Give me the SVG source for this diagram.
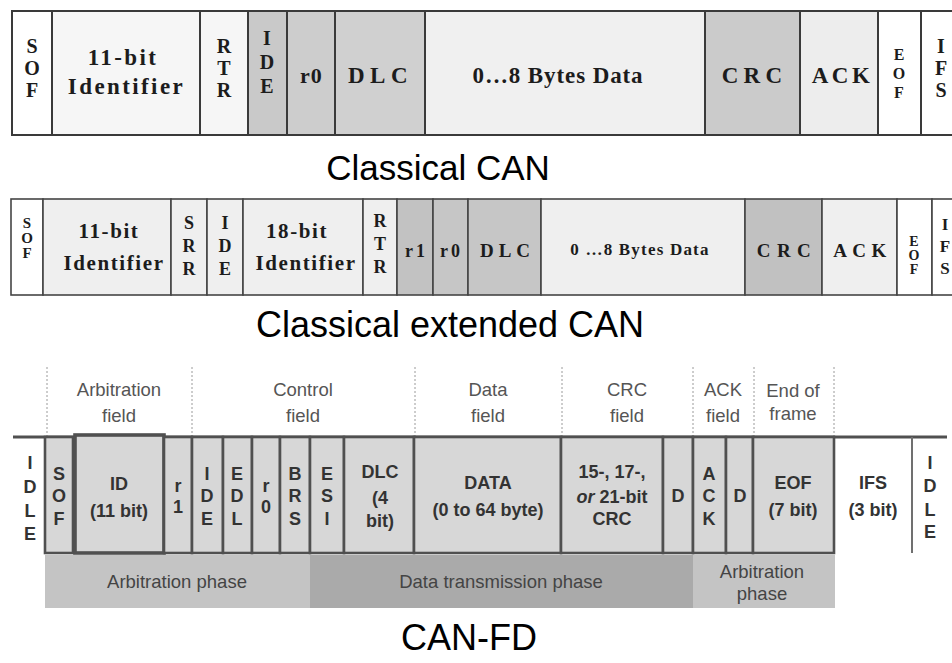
<svg xmlns="http://www.w3.org/2000/svg" width="952" height="663" viewBox="0 0 952 663">
<style>
.b1{stroke:#3a3a3a;stroke-width:2}
.b2{stroke:#454545;stroke-width:1.6}
.fd{fill:#d7d7d7;stroke:#505050;stroke-width:2.6}
.sf{font-family:"Liberation Serif","Times New Roman",serif;font-weight:bold;fill:#1c1c1c;text-anchor:middle}
.title{font-family:"Liberation Sans",Arial,sans-serif;font-size:35px;fill:#000;text-anchor:middle}
.cb{font-family:"Liberation Sans",Arial,sans-serif;font-weight:bold;font-size:18px;fill:#333;text-anchor:middle}
.hd{font-family:"Liberation Sans",Arial,sans-serif;font-size:18.5px;fill:#555;text-anchor:middle}
.ph{font-family:"Liberation Sans",Arial,sans-serif;font-size:18.5px;fill:#444;text-anchor:middle}
.dash{stroke:#9a9a9a;stroke-width:1;stroke-dasharray:2 2}
</style>

<!-- Classical CAN -->
<g id="classical">
<g id="c-sof"><rect x="12" y="11" width="40" height="124" fill="#ffffff" class="b1"/>
<text class="sf" font-size="20"><tspan x="32" y="53">S</tspan><tspan x="32" y="75">O</tspan><tspan x="32" y="97">F</tspan></text></g>
<g id="c-id"><rect x="52" y="11" width="148" height="124" fill="#f6f6f6" class="b1"/>
<text class="sf" font-size="23" letter-spacing="2.4"><tspan x="123" y="65">11-bit</tspan><tspan x="126.5" y="94">Identifier</tspan></text></g>
<g id="c-rtr"><rect x="200" y="11" width="48" height="124" fill="#f6f6f6" class="b1"/>
<text class="sf" font-size="20"><tspan x="224" y="53">R</tspan><tspan x="224" y="75">T</tspan><tspan x="224" y="97">R</tspan></text></g>
<g id="c-ide"><rect x="248" y="11" width="39" height="124" fill="#c9c9c9" class="b1"/>
<text class="sf" font-size="20"><tspan x="267" y="45">I</tspan><tspan x="267" y="69">D</tspan><tspan x="267" y="93">E</tspan></text></g>
<g id="c-r0"><rect x="287" y="11" width="48" height="124" fill="#cdcdcd" class="b1"/>
<text class="sf" font-size="22" letter-spacing="1" x="311.5" y="83">r0</text></g>
<g id="c-dlc"><rect x="335" y="11" width="90" height="124" fill="#d0d0d0" class="b1"/>
<text class="sf" font-size="23" letter-spacing="5.5" x="380.5" y="83">DLC</text></g>
<g id="c-data"><rect x="425" y="11" width="280" height="124" fill="#f0f0f0" class="b1"/>
<text class="sf" font-size="23" letter-spacing="0.9" x="558" y="83">0…8 Bytes Data</text></g>
<g id="c-crc"><rect x="705" y="11" width="95" height="124" fill="#cbcbcb" class="b1"/>
<text class="sf" font-size="23" letter-spacing="5.2" x="754.5" y="83">CRC</text></g>
<g id="c-ack"><rect x="800" y="11" width="78" height="124" fill="#ededed" class="b1"/>
<text class="sf" font-size="23" letter-spacing="3.5" x="842.5" y="83">ACK</text></g>
<g id="c-eof"><rect x="878" y="11" width="43" height="124" fill="#ffffff" class="b1"/>
<text class="sf" font-size="16"><tspan x="899" y="60">E</tspan><tspan x="899" y="79">O</tspan><tspan x="899" y="98">F</tspan></text></g>
<g id="c-ifs"><rect x="921" y="11" width="40" height="124" fill="#ffffff" class="b1"/>
<text class="sf" font-size="20"><tspan x="941" y="53">I</tspan><tspan x="941" y="75">F</tspan><tspan x="941" y="97">S</tspan></text></g>
<text class="title" x="438" y="180">Classical CAN</text>
</g>

<!-- Classical extended CAN -->
<g id="extended">
<g id="e-sof"><rect x="11" y="199" width="32" height="96" fill="#ffffff" class="b2"/>
<text class="sf" font-size="15"><tspan x="27" y="228">S</tspan><tspan x="27" y="243">O</tspan><tspan x="27" y="258">F</tspan></text></g>
<g id="e-id11"><rect x="43" y="199" width="128" height="96" fill="#efefef" class="b2"/>
<text class="sf" font-size="21" letter-spacing="1.6"><tspan x="109" y="238">11-bit</tspan><tspan x="114" y="270">Identifier</tspan></text></g>
<g id="e-srr"><rect x="171" y="199" width="36" height="96" fill="#efefef" class="b2"/>
<text class="sf" font-size="18"><tspan x="189" y="229">S</tspan><tspan x="189" y="252">R</tspan><tspan x="189" y="275">R</tspan></text></g>
<g id="e-ide"><rect x="207" y="199" width="36" height="96" fill="#efefef" class="b2"/>
<text class="sf" font-size="18"><tspan x="225" y="229">I</tspan><tspan x="225" y="252">D</tspan><tspan x="225" y="275">E</tspan></text></g>
<g id="e-id18"><rect x="243" y="199" width="120" height="96" fill="#efefef" class="b2"/>
<text class="sf" font-size="21" letter-spacing="1.6"><tspan x="297" y="238">18-bit</tspan><tspan x="306" y="270">Identifier</tspan></text></g>
<g id="e-rtr"><rect x="363" y="199" width="34" height="96" fill="#efefef" class="b2"/>
<text class="sf" font-size="18"><tspan x="380" y="227">R</tspan><tspan x="380" y="250">T</tspan><tspan x="380" y="273">R</tspan></text></g>
<g id="e-r1"><rect x="397" y="199" width="36" height="96" fill="#c2c2c2" class="b2"/>
<text class="sf" font-size="18" letter-spacing="3" x="416.5" y="257">r1</text></g>
<g id="e-r0"><rect x="433" y="199" width="35" height="96" fill="#c6c6c6" class="b2"/>
<text class="sf" font-size="18" letter-spacing="3" x="451.5" y="257">r0</text></g>
<g id="e-dlc"><rect x="468" y="199" width="73" height="96" fill="#c6c6c6" class="b2"/>
<text class="sf" font-size="19" letter-spacing="5" x="507.5" y="257">DLC</text></g>
<g id="e-data"><rect x="541" y="199" width="204" height="96" fill="#efefef" class="b2"/>
<text class="sf" font-size="17" letter-spacing="1.2" x="640" y="255">0 …8 Bytes Data</text></g>
<g id="e-crc"><rect x="745" y="199" width="77" height="96" fill="#c1c1c1" class="b2"/>
<text class="sf" font-size="19" letter-spacing="6.5" x="787" y="257">CRC</text></g>
<g id="e-ack"><rect x="822" y="199" width="75" height="96" fill="#efefef" class="b2"/>
<text class="sf" font-size="19" letter-spacing="5.5" x="862.5" y="257">ACK</text></g>
<g id="e-eof"><rect x="897" y="199" width="35" height="96" fill="#ffffff" class="b2"/>
<text class="sf" font-size="14"><tspan x="914" y="246">E</tspan><tspan x="914" y="260">O</tspan><tspan x="914" y="274">F</tspan></text></g>
<g id="e-ifs"><rect x="932" y="199" width="30" height="96" fill="#ffffff" class="b2"/>
<text class="sf" font-size="17"><tspan x="945" y="230">I</tspan><tspan x="945" y="252">F</tspan><tspan x="945" y="274">S</tspan></text></g>
<text class="title" style="font-size:36px" x="450" y="337">Classical extended CAN</text>
</g>

<!-- CAN-FD -->
<g id="canfd">
<g id="connectors">
<line class="dash" x1="47" y1="367" x2="47" y2="437"/>
<line class="dash" x1="192" y1="367" x2="192" y2="437"/>
<line class="dash" x1="415" y1="367" x2="415" y2="437"/>
<line class="dash" x1="562" y1="367" x2="562" y2="437"/>
<line class="dash" x1="693" y1="367" x2="693" y2="437"/>
<line class="dash" x1="754" y1="367" x2="754" y2="437"/>
<line class="dash" x1="834" y1="367" x2="834" y2="437"/>
</g>
<g id="headers">
<text class="hd"><tspan x="119" y="396">Arbitration</tspan><tspan x="119" y="422">field</tspan></text>
<text class="hd"><tspan x="303" y="396">Control</tspan><tspan x="303" y="422">field</tspan></text>
<text class="hd"><tspan x="488" y="396">Data</tspan><tspan x="488" y="422">field</tspan></text>
<text class="hd"><tspan x="627" y="396">CRC</tspan><tspan x="627" y="422">field</tspan></text>
<text class="hd"><tspan x="723" y="396">ACK</tspan><tspan x="723" y="422">field</tspan></text>
<text class="hd"><tspan x="793" y="397">End of</tspan><tspan x="793" y="420">frame</tspan></text>
</g>
<g id="phases">
<rect x="45" y="555" width="265" height="53" fill="#c4c4c4"/>
<rect x="310" y="555" width="383" height="53" fill="#aaaaaa"/>
<rect x="693" y="555" width="142" height="53" fill="#c4c4c4"/>
<text class="ph" x="177" y="588">Arbitration phase</text>
<text class="ph" x="501" y="588">Data transmission phase</text>
<text class="ph"><tspan x="762" y="578">Arbitration</tspan><tspan x="762" y="600">phase</tspan></text>
</g>
<line x1="13" y1="437" x2="947" y2="437" stroke="#505050" stroke-width="3"/>
<g id="fd-idle1"><text class="cb"><tspan x="30" y="469">I</tspan><tspan x="30" y="493">D</tspan><tspan x="30" y="517">L</tspan><tspan x="30" y="540">E</tspan></text></g>
<g id="fd-sof"><rect class="fd" x="45" y="437" width="28" height="116"/>
<text class="cb"><tspan x="59" y="480">S</tspan><tspan x="59" y="502">O</tspan><tspan x="59" y="525">F</tspan></text></g>
<g id="fd-id"><rect class="fd" x="75" y="435" width="89" height="118" style="stroke-width:3.6"/>
<text class="cb"><tspan x="119" y="490">ID</tspan><tspan x="119" y="517">(11 bit)</tspan></text></g>
<g id="fd-r1"><rect class="fd" x="164" y="437" width="28" height="116"/>
<text class="cb"><tspan x="178" y="492">r</tspan><tspan x="178" y="513">1</tspan></text></g>
<g id="fd-ide"><rect class="fd" x="192" y="437" width="31" height="116"/>
<text class="cb"><tspan x="207" y="480">I</tspan><tspan x="207" y="502">D</tspan><tspan x="207" y="525">E</tspan></text></g>
<g id="fd-edl"><rect class="fd" x="223" y="437" width="29" height="116"/>
<text class="cb"><tspan x="237" y="480">E</tspan><tspan x="237" y="502">D</tspan><tspan x="237" y="525">L</tspan></text></g>
<g id="fd-r0"><rect class="fd" x="252" y="437" width="28" height="116"/>
<text class="cb"><tspan x="266" y="492">r</tspan><tspan x="266" y="513">0</tspan></text></g>
<g id="fd-brs"><rect class="fd" x="280" y="437" width="30" height="116"/>
<text class="cb"><tspan x="295" y="480">B</tspan><tspan x="295" y="502">R</tspan><tspan x="295" y="525">S</tspan></text></g>
<g id="fd-esi"><rect class="fd" x="310" y="437" width="34" height="116"/>
<text class="cb"><tspan x="327" y="480">E</tspan><tspan x="327" y="502">S</tspan><tspan x="327" y="525">I</tspan></text></g>
<g id="fd-dlc"><rect class="fd" x="344" y="437" width="70" height="116"/>
<text class="cb"><tspan x="380" y="478">DLC</tspan><tspan x="380" y="504">(4</tspan><tspan x="380" y="527">bit)</tspan></text></g>
<g id="fd-data"><rect class="fd" x="414" y="437" width="147" height="116"/>
<text class="cb"><tspan x="488" y="489">DATA</tspan><tspan x="488" y="516">(0 to 64 byte)</tspan></text></g>
<g id="fd-crc"><rect class="fd" x="561" y="437" width="102" height="116"/>
<text class="cb"><tspan x="612" y="478">15-, 17-,</tspan><tspan x="612" y="503"><tspan font-style="italic">or</tspan> 21-bit</tspan><tspan x="612" y="525">CRC</tspan></text></g>
<g id="fd-d1"><rect class="fd" x="663" y="437" width="30" height="116"/>
<text class="cb" x="678" y="502">D</text></g>
<g id="fd-ack"><rect class="fd" x="693" y="437" width="33" height="116"/>
<text class="cb"><tspan x="709" y="480">A</tspan><tspan x="709" y="502">C</tspan><tspan x="709" y="525">K</tspan></text></g>
<g id="fd-d2"><rect class="fd" x="726" y="437" width="27" height="116"/>
<text class="cb" x="740" y="502">D</text></g>
<g id="fd-eof"><rect class="fd" x="753" y="437" width="81" height="116"/>
<text class="cb"><tspan x="793" y="489">EOF</tspan><tspan x="793" y="516">(7 bit)</tspan></text></g>
<g id="fd-ifs">
<text class="cb"><tspan x="873" y="489">IFS</tspan><tspan x="873" y="516">(3 bit)</tspan></text>
<line x1="912" y1="437" x2="912" y2="553" stroke="#707070" stroke-width="2"/></g>
<g id="fd-idle2"><text class="cb"><tspan x="930" y="469">I</tspan><tspan x="930" y="492">D</tspan><tspan x="930" y="516">L</tspan><tspan x="930" y="538">E</tspan></text></g>
<text class="title" style="font-size:36px" x="469" y="650">CAN-FD</text>
</g>
</svg>
